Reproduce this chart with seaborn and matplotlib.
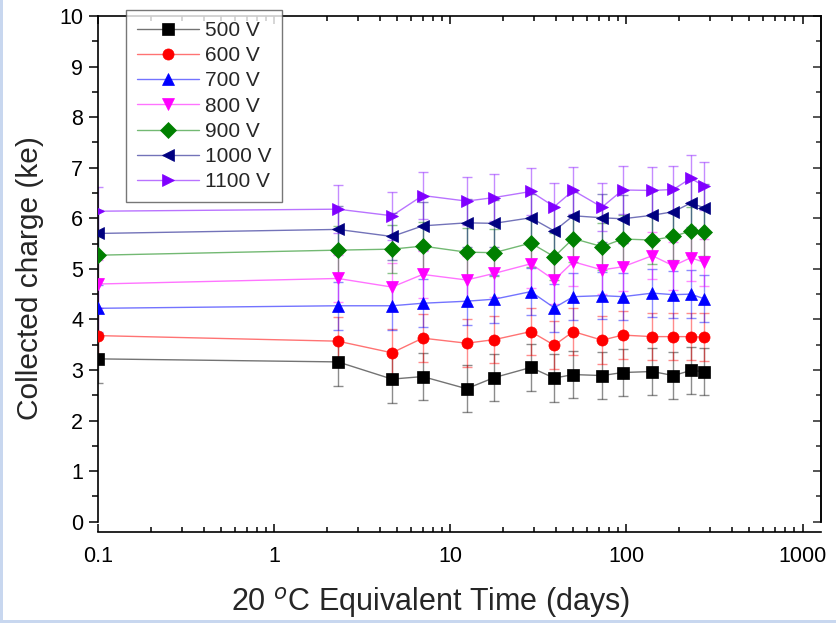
import numpy as np
import pandas as pd
import matplotlib
matplotlib.use('Agg')
import matplotlib.pyplot as plt
import matplotlib.ticker as mticker
from matplotlib.patches import Rectangle
from matplotlib.colors import to_rgba
import seaborn as sns

# ---- data ----
days = [0.1, 2.31, 4.68, 6.99, 12.4, 17.8, 28.7, 39.0, 50.0, 72.8, 95.4, 140.5, 185, 232, 276]

q_500 = [3.22, 3.16, 2.82, 2.87, 2.63, 2.85, 3.05, 2.84, 2.91, 2.89, 2.95, 2.97, 2.89, 2.99, 2.97]
q_600 = [3.68, 3.57, 3.34, 3.63, 3.53, 3.60, 3.76, 3.49, 3.76, 3.59, 3.69, 3.66, 3.66, 3.66, 3.65]
q_700 = [4.22, 4.27, 4.27, 4.32, 4.36, 4.40, 4.55, 4.23, 4.45, 4.47, 4.45, 4.52, 4.49, 4.50, 4.41]
q_800 = [4.70, 4.81, 4.64, 4.89, 4.78, 4.91, 5.10, 4.78, 5.14, 4.98, 5.04, 5.26, 5.06, 5.22, 5.13]
q_900 = [5.27, 5.37, 5.39, 5.45, 5.33, 5.32, 5.51, 5.24, 5.60, 5.44, 5.59, 5.57, 5.64, 5.75, 5.72]
q_1000 = [5.70, 5.78, 5.64, 5.85, 5.91, 5.90, 6.01, 5.75, 6.05, 6.01, 5.99, 6.06, 6.13, 6.30, 6.21]
q_1100 = [6.14, 6.18, 6.05, 6.45, 6.34, 6.41, 6.53, 6.23, 6.55, 6.22, 6.56, 6.55, 6.57, 6.79, 6.64]

voltages = ['500 V', '600 V', '700 V', '800 V', '900 V', '1000 V', '1100 V']
errors = [0.47, 0.47, 0.47, 0.47, 0.47, 0.47, 0.47]

colors = ['#000000', '#ff0000', '#0000ff', '#ff00ff', '#008000', '#000080', '#8000ff']
markers = ['s', 'o', '^', 'v', 'D', '<', '>']

series = [q_500, q_600, q_700, q_800, q_900, q_1000, q_1100]
df = pd.concat([pd.DataFrame({'days': days, 'charge': s, 'voltage': v})
                for s, v in zip(series, voltages)], ignore_index=True)

sns.set_theme(style='ticks')
plt.rcParams['font.family'] = ['Liberation Sans', 'DejaVu Sans']
plt.rcParams['mathtext.fontset'] = 'custom'
plt.rcParams['mathtext.rm'] = 'Liberation Sans'

fig = plt.figure(figsize=(8.37, 6.23), dpi=100)
fig.patch.set_facecolor('white')
ax = fig.add_axes([0.1167, 0.1626, 0.8636, 0.8117])

sns.lineplot(data=df, x='days', y='charge', hue='voltage', style='voltage',
             hue_order=voltages, style_order=voltages,
             palette=dict(zip(voltages, colors)), markers=dict(zip(voltages, markers)),
             dashes=False, markersize=8, linewidth=1.0, ax=ax, legend=False)

# lines a bit faded, markers solid
handles = list(ax.lines[:len(voltages)])
for ln, c in zip(handles, colors):
    ln.set_color(to_rgba(c, 0.55))
    ln.set_markerfacecolor(c)
    ln.set_markeredgecolor(c)
    ln.set_markeredgewidth(0.5)
    ln.set_zorder(3)

for s, e, c in zip(series, errors, colors):
    ax.errorbar(days, s, yerr=e, fmt='none', ecolor=c, alpha=0.45,
                elinewidth=1.0, capsize=3.5, capthick=1.0, zorder=2)

ax.set_xscale('log')
ax.set_xlim(0.1, 1265)
ax.set_ylim(0, 10)
ax.xaxis.set_major_locator(mticker.LogLocator(base=10))
ax.xaxis.set_minor_locator(mticker.LogLocator(base=10, subs=np.arange(2, 10)))
ax.xaxis.set_major_formatter(mticker.FuncFormatter(lambda v, p: f'{v:g}'))
ax.xaxis.set_minor_formatter(mticker.NullFormatter())
ax.yaxis.set_major_locator(mticker.MultipleLocator(1))
ax.yaxis.set_minor_locator(mticker.MultipleLocator(0.5))

for sp in ax.spines.values():
    sp.set_linewidth(1.2)
    sp.set_color('black')
ax.spines['bottom'].set_position(('outward', 7.5))

ax.tick_params(axis='both', which='both', colors='black', labelsize=15.5, width=1.1)
ax.tick_params(axis='y', which='major', direction='out', length=6.5, pad=4, left=True, right=False)
ax.tick_params(axis='y', which='minor', direction='out', length=4, left=True, right=False)
ax.tick_params(axis='x', which='major', direction='in', length=6, top=True, bottom=True, pad=10)
ax.tick_params(axis='x', which='minor', direction='in', length=3.5, top=True, bottom=True)

# right side ticks point inward, no labels
ay = ax.secondary_yaxis('right')
ay.yaxis.set_major_locator(mticker.MultipleLocator(1))
ay.yaxis.set_minor_locator(mticker.MultipleLocator(0.5))
ay.tick_params(which='major', direction='in', length=6, width=1.1, labelright=False)
ay.tick_params(which='minor', direction='in', length=3.5, width=1.1)
ay.spines['right'].set_linewidth(1.2)

ax.set_xlabel('20 $^{o}$C Equivalent Time (days)', fontsize=22)
ax.set_ylabel('Collected charge (ke)', fontsize=21.5)
ax.xaxis.set_label_coords(0.46, -0.125)
ax.yaxis.set_label_coords(-0.074, 0.482)

leg = ax.legend(handles=handles, labels=voltages, loc='upper left',
                bbox_to_anchor=(0.0395, 1.011), borderaxespad=0, fontsize=15,
                frameon=True, fancybox=False, edgecolor='#555555',
                handlelength=3.0, handletextpad=0.3, labelspacing=0.3,
                borderpad=0.5, markerscale=1.0)
leg.get_frame().set_linewidth(1.0)
leg.set_zorder(5)

# thin light-blue border of the slide
blue = '#c8d7ef'
fig.add_artist(Rectangle((0, 0), 1, 3 / 623, transform=fig.transFigure,
                         facecolor=blue, edgecolor='none', zorder=10))
fig.add_artist(Rectangle((0, 0), 2.5 / 837, 1, transform=fig.transFigure,
                         facecolor=blue, edgecolor='none', zorder=10))

fig.savefig('out.png', dpi=100)
